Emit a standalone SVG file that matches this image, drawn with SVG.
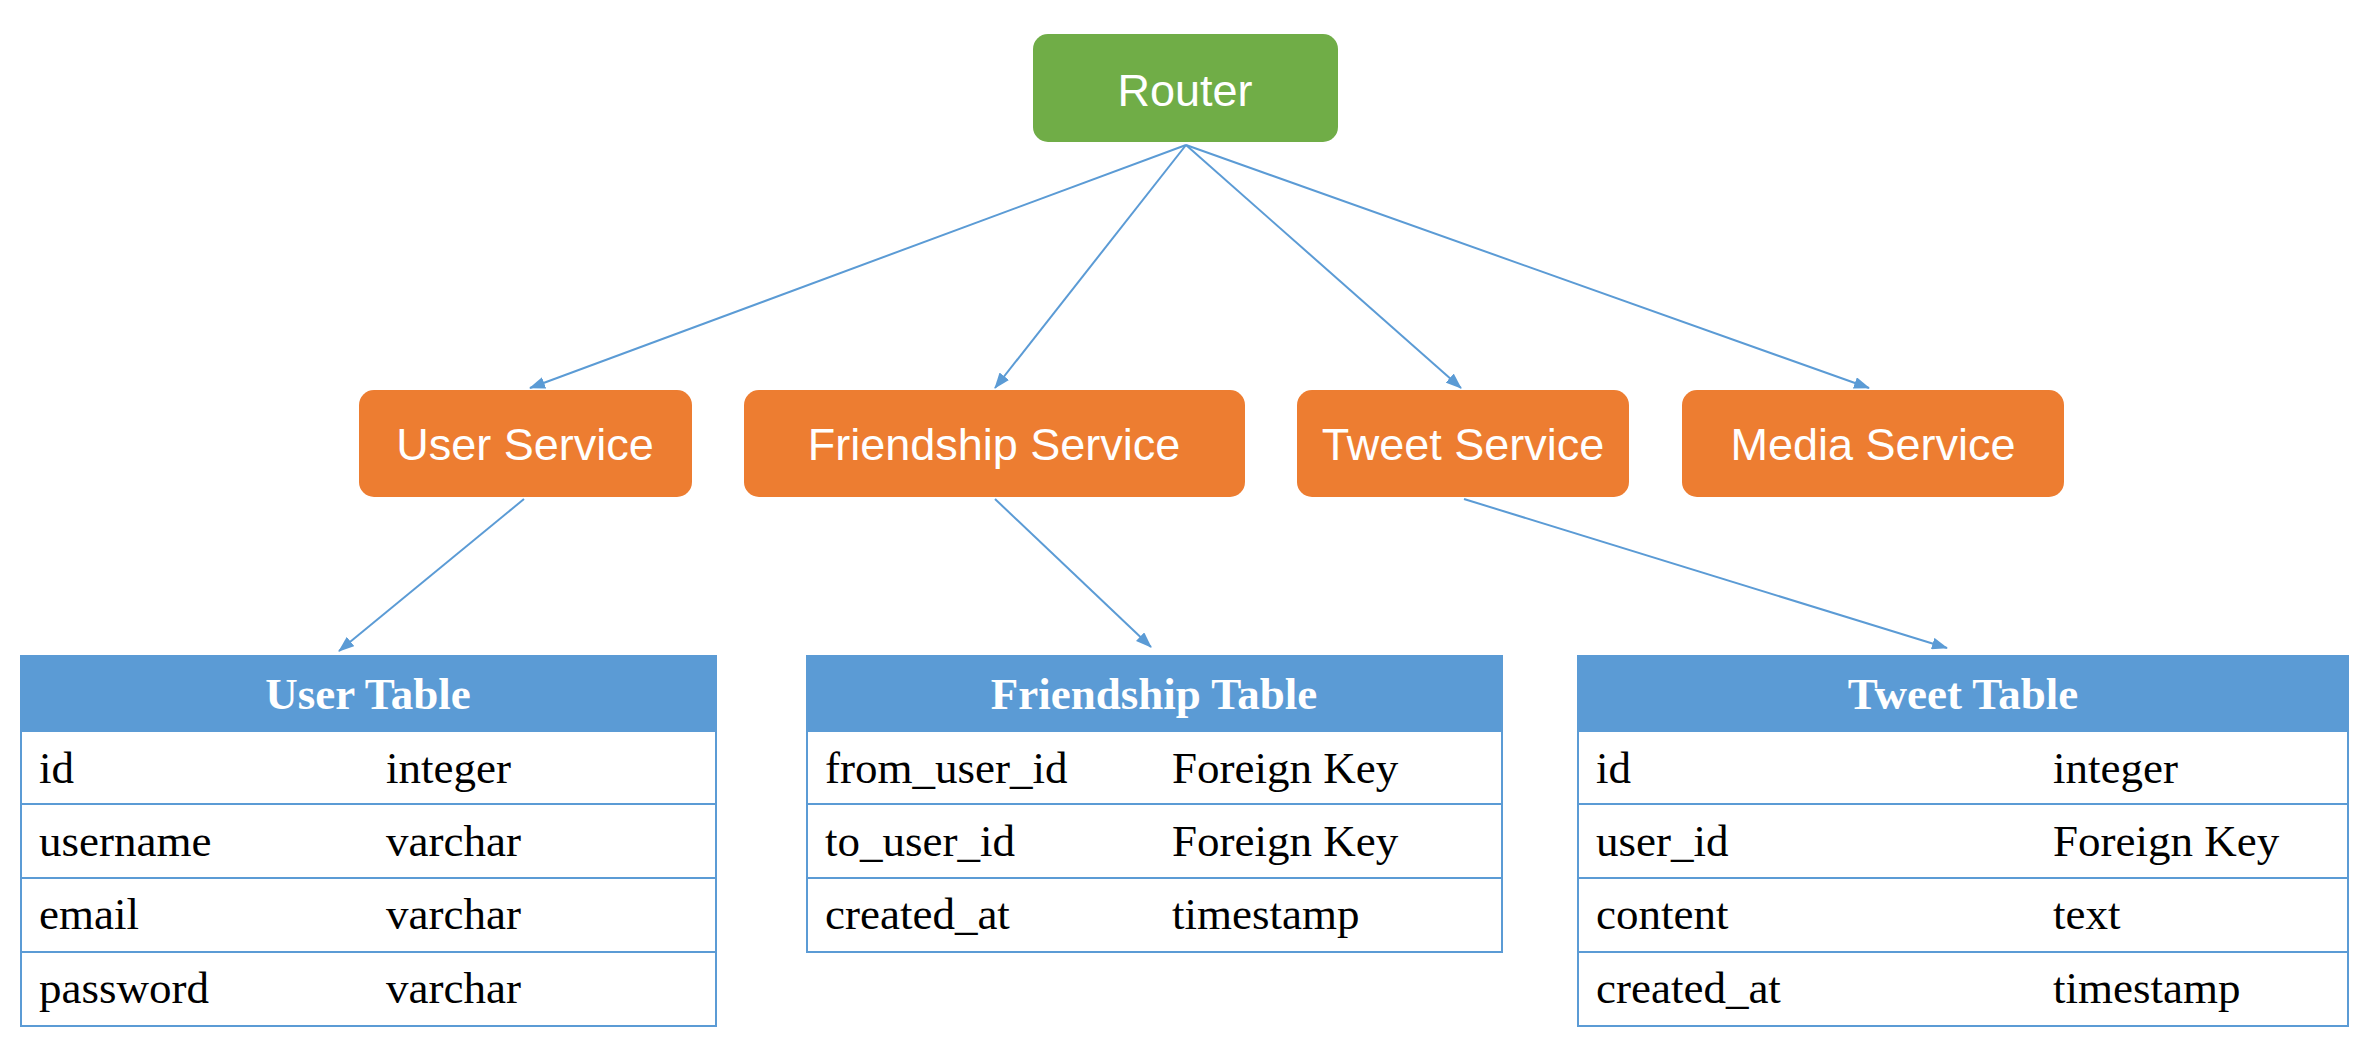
<svg xmlns="http://www.w3.org/2000/svg" width="2372" height="1048" viewBox="0 0 2372 1048">
  <style>
    .svc { fill: #ED7D31; }
    .router { fill: #70AD47; }
    .label { font-family: "Liberation Sans", Arial, sans-serif; font-size: 45px; fill: #FFFFFF; text-anchor: middle; }
    .thead { fill: #5B9BD5; stroke: #5B9BD5; stroke-width: 2; }
    .tbox { fill: #FFFFFF; stroke: #5B9BD5; stroke-width: 2; }
    .tline { stroke: #5B9BD5; stroke-width: 2; }
    .ttitle { font-family: "Liberation Serif", "Times New Roman", serif; font-size: 45px; font-weight: bold; fill: #FFFFFF; text-anchor: middle; }
    .cell { font-family: "Liberation Serif", "Times New Roman", serif; font-size: 45px; fill: #000000; }
    .conn { stroke: #5B9BD5; stroke-width: 2; fill: none; marker-end: url(#arrow); }
  </style>
  <defs>
    <marker id="arrow" markerUnits="userSpaceOnUse" markerWidth="16" markerHeight="12" viewBox="0 0 16 12" refX="15" refY="6" orient="auto">
      <path d="M0,0 L16,6 L0,12 Z" fill="#5B9BD5"/>
    </marker>
  </defs>
  <rect width="2372" height="1048" fill="#FFFFFF"/>

  <g id="connectors">
    <line class="conn" x1="1186" y1="145" x2="530" y2="388"/>
    <line class="conn" x1="1186" y1="145" x2="995" y2="388"/>
    <line class="conn" x1="1186" y1="145" x2="1461" y2="388"/>
    <line class="conn" x1="1186" y1="145" x2="1869" y2="388"/>
    <line class="conn" x1="524" y1="499" x2="339" y2="651"/>
    <line class="conn" x1="995" y1="499" x2="1151" y2="647"/>
    <line class="conn" x1="1464" y1="499" x2="1947" y2="648"/>
  </g>

  <g id="router">
    <rect class="router" x="1033" y="34" width="305" height="108" rx="15" ry="15"/>
    <text class="label" x="1185" y="106">Router</text>
  </g>

  <g id="user-service">
    <rect class="svc" x="359" y="390" width="333" height="107" rx="15" ry="15"/>
    <text class="label" x="525" y="460">User Service</text>
  </g>
  <g id="friendship-service">
    <rect class="svc" x="744" y="390" width="501" height="107" rx="15" ry="15"/>
    <text class="label" x="994" y="460">Friendship Service</text>
  </g>
  <g id="tweet-service">
    <rect class="svc" x="1297" y="390" width="332" height="107" rx="15" ry="15"/>
    <text class="label" x="1463" y="460">Tweet Service</text>
  </g>
  <g id="media-service">
    <rect class="svc" x="1682" y="390" width="382" height="107" rx="15" ry="15"/>
    <text class="label" x="1873" y="460">Media Service</text>
  </g>

  <g id="user-table">
    <rect class="tbox" x="21" y="656" width="695" height="370"/>
    <rect class="thead" x="21" y="656" width="695" height="75"/>
    <line class="tline" x1="21" y1="804" x2="716" y2="804"/>
    <line class="tline" x1="21" y1="878" x2="716" y2="878"/>
    <line class="tline" x1="21" y1="952" x2="716" y2="952"/>
    <text class="ttitle" x="368" y="709">User Table</text>
    <text class="cell" x="39" y="783">id</text>
    <text class="cell" x="386" y="783">integer</text>
    <text class="cell" x="39" y="856">username</text>
    <text class="cell" x="386" y="856">varchar</text>
    <text class="cell" x="39" y="929">email</text>
    <text class="cell" x="386" y="929">varchar</text>
    <text class="cell" x="39" y="1003">password</text>
    <text class="cell" x="386" y="1003">varchar</text>
  </g>

  <g id="friendship-table">
    <rect class="tbox" x="807" y="656" width="695" height="296"/>
    <rect class="thead" x="807" y="656" width="695" height="75"/>
    <line class="tline" x1="807" y1="804" x2="1502" y2="804"/>
    <line class="tline" x1="807" y1="878" x2="1502" y2="878"/>
    <text class="ttitle" x="1154" y="709">Friendship Table</text>
    <text class="cell" x="825" y="783">from_user_id</text>
    <text class="cell" x="1172" y="783">Foreign Key</text>
    <text class="cell" x="825" y="856">to_user_id</text>
    <text class="cell" x="1172" y="856">Foreign Key</text>
    <text class="cell" x="825" y="929">created_at</text>
    <text class="cell" x="1172" y="929">timestamp</text>
  </g>

  <g id="tweet-table">
    <rect class="tbox" x="1578" y="656" width="770" height="370"/>
    <rect class="thead" x="1578" y="656" width="770" height="75"/>
    <line class="tline" x1="1578" y1="804" x2="2348" y2="804"/>
    <line class="tline" x1="1578" y1="878" x2="2348" y2="878"/>
    <line class="tline" x1="1578" y1="952" x2="2348" y2="952"/>
    <text class="ttitle" x="1963" y="709">Tweet Table</text>
    <text class="cell" x="1596" y="783">id</text>
    <text class="cell" x="2053" y="783">integer</text>
    <text class="cell" x="1596" y="856">user_id</text>
    <text class="cell" x="2053" y="856">Foreign Key</text>
    <text class="cell" x="1596" y="929">content</text>
    <text class="cell" x="2053" y="929">text</text>
    <text class="cell" x="1596" y="1003">created_at</text>
    <text class="cell" x="2053" y="1003">timestamp</text>
  </g>
</svg>
